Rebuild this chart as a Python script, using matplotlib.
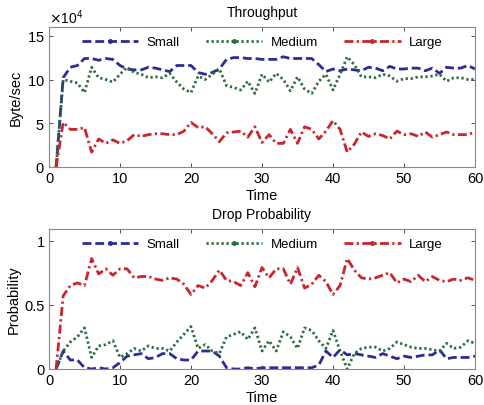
import numpy as np
import matplotlib
matplotlib.use('Agg')
import matplotlib.pyplot as plt
from matplotlib.lines import Line2D

plt.rcParams['font.family'] = ['Liberation Sans', 'DejaVu Sans']
plt.rcParams['font.size'] = 10

t = np.arange(1, 61)

# throughput, units of 1e4 byte/sec
thr_small = [0, 10.2, 11.4, 11.6, 12.4, 12.4, 12.2, 12.4, 12.3, 11.6,
             11.2, 11.1, 11.1, 11.4, 11.3, 11.1, 10.9, 11.6, 11.6, 11.6,
             10.8, 10.6, 10.8, 11.2, 12.3, 12.5, 12.5, 12.4, 12.4, 12.3,
             12.3, 12.3, 12.6, 12.4, 12.4, 12.4, 12.4, 11.7, 10.9, 11.2,
             11.0, 11.2, 11.1, 11.0, 11.4, 11.3, 11.0, 11.5, 11.2, 11.2,
             11.3, 11.3, 11.0, 11.3, 10.7, 11.4, 11.3, 11.3, 11.6, 11.2]
thr_medium = [0, 10.0, 9.8, 9.6, 8.5, 11.4, 10.2, 10.0, 9.7, 10.6,
              11.4, 10.8, 10.6, 10.2, 10.3, 10.2, 10.7, 9.7, 8.9, 8.5,
              10.4, 10.0, 10.6, 11.2, 9.3, 9.1, 8.8, 9.8, 8.4, 10.6,
              9.7, 10.7, 10.0, 8.7, 10.3, 8.9, 8.4, 9.8, 10.6, 8.8,
              10.6, 12.6, 11.7, 10.3, 10.3, 10.2, 10.6, 10.4, 9.8, 10.1,
              10.1, 10.3, 10.3, 10.4, 10.6, 9.8, 10.2, 10.2, 10.0, 10.0]
thr_large = [0, 5.1, 4.3, 4.3, 4.5, 1.7, 3.2, 2.7, 3.1, 2.7,
             3.0, 3.7, 3.5, 3.7, 3.8, 3.8, 3.7, 3.7, 4.1, 5.1,
             4.5, 4.6, 3.8, 2.9, 3.9, 4.0, 4.1, 3.4, 4.6, 2.8,
             3.7, 2.7, 2.7, 4.3, 2.7, 4.6, 4.3, 3.2, 4.1, 5.3,
             4.3, 1.7, 2.6, 4.0, 3.5, 3.8, 3.6, 3.2, 4.1, 3.7,
             3.8, 3.5, 4.0, 3.4, 3.7, 4.0, 3.7, 3.7, 3.7, 4.0]

# drop probability
drop_small = [0, 0.14, 0.07, 0.07, 0.01, 0.0, 0.01, 0.0, 0.01, 0.05,
              0.10, 0.11, 0.12, 0.08, 0.09, 0.12, 0.12, 0.08, 0.07, 0.07,
              0.14, 0.14, 0.14, 0.10, 0.01, 0.0, 0.0, 0.01, 0.0, 0.01,
              0.01, 0.01, 0.01, 0.01, 0.01, 0.01, 0.01, 0.03, 0.14, 0.09,
              0.15, 0.11, 0.12, 0.11, 0.10, 0.09, 0.12, 0.10, 0.08, 0.10,
              0.09, 0.10, 0.11, 0.11, 0.15, 0.08, 0.09, 0.09, 0.09, 0.10]
drop_medium = [0, 0.14, 0.21, 0.25, 0.32, 0.09, 0.18, 0.19, 0.22, 0.09,
               0.12, 0.16, 0.14, 0.18, 0.16, 0.16, 0.14, 0.21, 0.27, 0.33,
               0.16, 0.19, 0.14, 0.12, 0.25, 0.27, 0.29, 0.23, 0.32, 0.14,
               0.22, 0.14, 0.29, 0.25, 0.16, 0.32, 0.30, 0.22, 0.16, 0.30,
               0.14, 0.0, 0.12, 0.16, 0.17, 0.17, 0.14, 0.16, 0.21, 0.19,
               0.17, 0.16, 0.16, 0.15, 0.14, 0.20, 0.16, 0.17, 0.22, 0.20]
drop_large = [0, 0.57, 0.65, 0.67, 0.65, 0.86, 0.74, 0.78, 0.73, 0.78,
              0.78, 0.71, 0.72, 0.72, 0.70, 0.69, 0.71, 0.70, 0.66, 0.58,
              0.65, 0.63, 0.69, 0.77, 0.69, 0.68, 0.65, 0.75, 0.64, 0.79,
              0.71, 0.78, 0.78, 0.66, 0.79, 0.63, 0.66, 0.73, 0.68, 0.58,
              0.65, 0.86, 0.77, 0.71, 0.70, 0.71, 0.73, 0.75, 0.67, 0.70,
              0.68, 0.73, 0.68, 0.72, 0.69, 0.68, 0.70, 0.69, 0.71, 0.69]

names = ['Small', 'Medium', 'Large']
colors = ['#2b2d95', '#2a6a3a', '#c8262a']
styles = [(0, (3.2, 1.4)), (0, (0.8, 1.0)), (0, (3.2, 1.2, 0.8, 1.2))]

fig = plt.figure(figsize=(4.84, 4.06), dpi=100)
ax1 = fig.add_axes([49/484, 1-168/406, 426/484, 140/406])
ax2 = fig.add_axes([49/484, 1-370/406, 426/484, 140/406])

def setup(ax, series, ylim, yticks, title, ylabel):
    for y, c, ls in zip(series, colors, styles):
        ax.plot(t, y, color=c, linestyle=ls, linewidth=2.0)
    ax.set_xlim(0, 60)
    ax.set_ylim(*ylim)
    ax.set_xticks([0, 10, 20, 30, 40, 50, 60])
    ax.set_yticks(yticks)
    ax.tick_params(direction='in', top=True, right=True, length=3, width=0.6,
                   colors='#333333', labelsize=10.5, labelcolor='black', pad=3)
    for s in ax.spines.values():
        s.set_color('#888888')
        s.set_linewidth(0.8)
    ax.set_title(title, fontsize=10, pad=8)
    ax.set_xlabel('Time', fontsize=10.5, labelpad=2)
    ax.set_ylabel(ylabel, fontsize=10.5, labelpad=3)
    handles = [Line2D([], [], color=c, linestyle=ls, linewidth=2.0,
                      marker='.', markersize=5)
               for c, ls in zip(colors, styles)]
    ax.legend(handles, names, loc='upper center', ncol=3, frameon=False,
              numpoints=1, handlelength=4.3, columnspacing=2.0,
              handletextpad=0.6, fontsize=9.5, borderaxespad=0.3)

setup(ax1, [np.array(thr_small)*1e4, np.array(thr_medium)*1e4,
            np.array(thr_large)*1e4],
      (0, 16e4), [0, 5e4, 10e4, 15e4], 'Throughput', 'Byte/sec')
ax1.ticklabel_format(axis='y', style='sci', scilimits=(4, 4), useMathText=True)
ax1.yaxis.get_offset_text().set_fontsize(10)

setup(ax2, [drop_small, drop_medium, drop_large],
      (0, 1.09), [0, 0.5, 1], 'Drop Probability', 'Probability')
ax2.set_yticklabels(['0', '0.5', '1'])

fig.savefig('out.png', dpi=100)
